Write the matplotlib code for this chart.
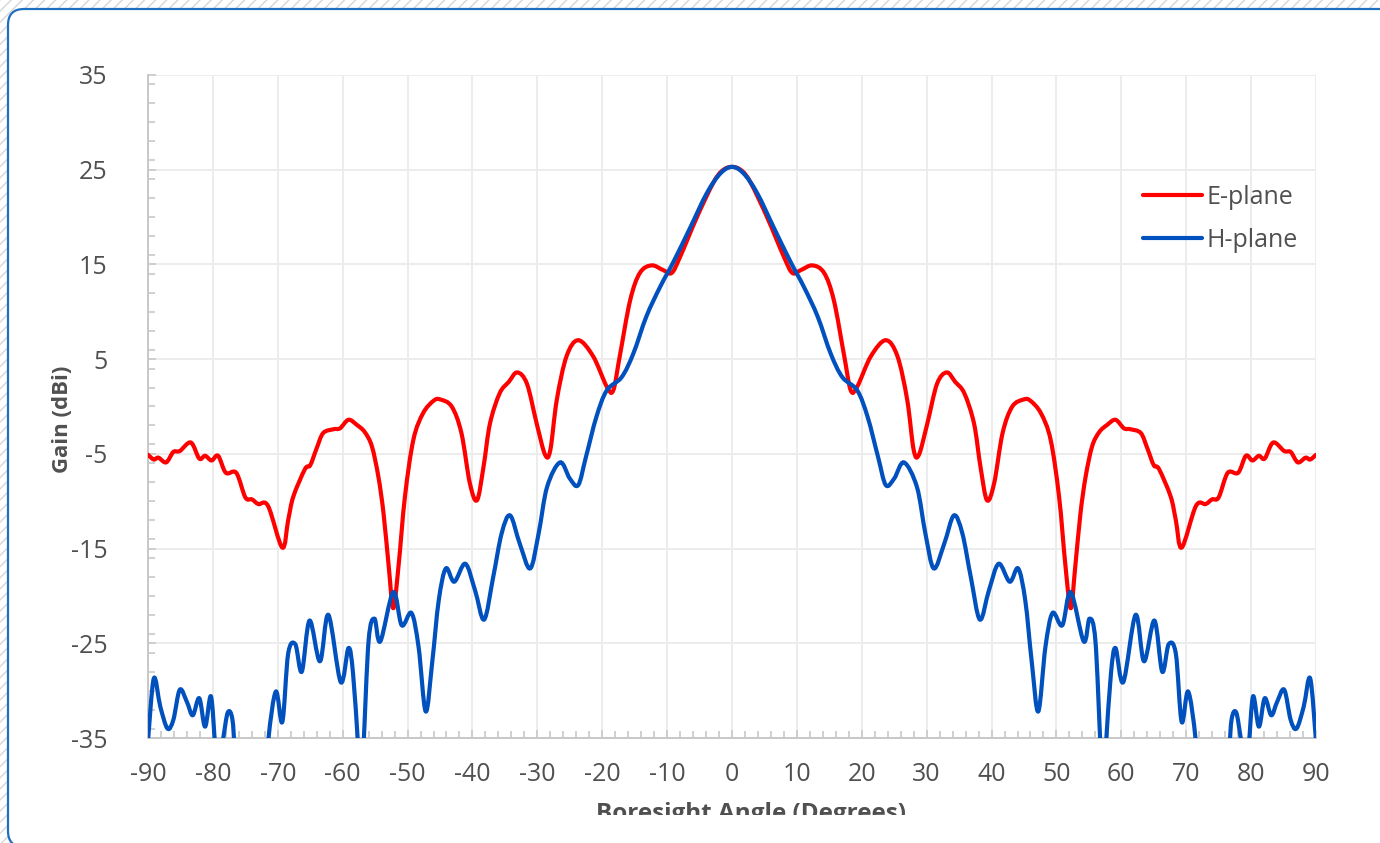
"""Radiation pattern (E-plane / H-plane) of the antenna, gain vs boresight angle."""
import matplotlib
matplotlib.use("Agg")
import matplotlib.pyplot as plt
from matplotlib.patches import Rectangle, FancyBboxPatch, PathPatch
from matplotlib.path import Path
from matplotlib.lines import Line2D
from matplotlib.transforms import IdentityTransform, Bbox, TransformedBbox
from matplotlib.ticker import MultipleLocator

plt.rcParams['font.family'] = ['Open Sans', 'DejaVu Sans']
plt.rcParams['axes.unicode_minus'] = False
plt.rcParams['hatch.color'] = '#d6d6d6'
plt.rcParams['hatch.linewidth'] = 1.0

# E-plane data (degrees, dBi)
e_angle = [-90, -89.1, -88.4, -87.2, -86.1, -85.1, -83.4, -82.1, -81.2, -80.2,
           -79.2, -78.0, -76.4, -75.0, -74.0, -73.0, -71.5, -69.3, -68.4, -67.6,
           -65.8, -65.0, -64.0, -63.0, -61.4, -60.4, -59.1, -57.8, -56.6, -55.5,
           -54.5, -53.7, -52.9, -52.2, -51.4, -50.4, -49.1, -47.6, -46.0, -45.0,
           -43.2, -41.7, -40.4, -39.3, -38.3, -37.3, -35.8, -34.4, -33.1, -31.6,
           -30.1, -28.8, -28.0, -27.0, -25.5, -23.7, -21.4, -19.3, -18.3, -17.3,
           -15.7, -14.2, -12.4, -10.6, -9.3, -8.0, -5.4, -2.9, -1.5, 0,
           1.5, 2.9, 5.4, 8.0, 9.3, 10.6, 12.4, 14.2, 15.7, 17.3,
           18.3, 19.3, 21.4, 23.7, 25.5, 27.0, 28.0, 28.8, 30.1, 31.6,
           33.1, 34.4, 35.8, 37.3, 38.3, 39.3, 40.4, 41.7, 43.2, 45.0,
           46.0, 47.6, 49.1, 50.4, 51.4, 52.2, 52.9, 53.7, 54.5, 55.5,
           56.6, 57.8, 59.1, 60.4, 61.4, 63.0, 64.0, 65.0, 65.8, 67.6,
           68.4, 69.3, 71.5, 73.0, 74.0, 75.0, 76.4, 78.0, 79.2, 80.2,
           81.2, 82.1, 83.4, 85.1, 86.1, 87.2, 88.4, 89.1, 90]
e_gain = [-5.1, -5.6, -5.4, -5.9, -4.8, -4.7, -3.8, -5.5, -5.2, -5.7,
          -5.2, -7.0, -7.0, -9.6, -9.8, -10.3, -10.5, -14.9, -12.0, -9.5,
          -6.6, -6.2, -4.4, -2.8, -2.4, -2.3, -1.4, -1.95, -2.7, -4.2,
          -7.4, -11.3, -16.9, -21.3, -16.9, -9.5, -3.5, -0.7, 0.6, 0.75,
          0.0, -2.8, -8.1, -9.9, -6.4, -1.8, 1.4, 2.6, 3.6, 2.4,
          -1.8, -5.1, -4.6, 0.7, 5.3, 7.0, 5.3, 2.1, 1.7, 5.3,
          11.2, 14.1, 14.9, 14.4, 14.1, 15.8, 20.0, 23.6, 24.9, 25.3,
          24.9, 23.6, 20.0, 15.8, 14.1, 14.4, 14.9, 14.1, 11.2, 5.3,
          1.7, 2.1, 5.3, 7.0, 5.3, 0.7, -4.6, -5.1, -1.8, 2.4,
          3.6, 2.6, 1.4, -1.8, -6.4, -9.9, -8.1, -2.8, 0.0, 0.75,
          0.6, -0.7, -3.5, -9.5, -16.9, -21.3, -16.9, -11.3, -7.4, -4.2,
          -2.7, -1.95, -1.4, -2.3, -2.4, -2.8, -4.4, -6.2, -6.6, -9.5,
          -12.0, -14.9, -10.5, -10.3, -9.8, -9.6, -7.0, -7.0, -5.2, -5.7,
          -5.2, -5.5, -3.8, -4.7, -4.8, -5.9, -5.4, -5.6, -5.1]

# H-plane data (degrees, dBi)
h_angle = [-90, -89.1, -88.1, -87.0, -86.1, -85.1, -84.0, -83.1, -82.1, -81.2,
           -80.3, -79.6, -79.0, -78.4, -77.7, -77.0, -76.5, -75.0, -72.5, -71.5,
           -70.3, -69.3, -68.4, -67.3, -66.3, -65.1, -63.5, -62.2, -60.3, -59.1,
           -58.4, -57.6, -57.2, -56.8, -56.0, -55.1, -54.2, -52.2, -50.9, -49.4,
           -48.3, -47.2, -46.2, -45.2, -44.1, -42.8, -41.1, -39.6, -38.2, -36.8,
           -35.5, -34.2, -32.7, -31.1, -29.8, -28.5, -26.5, -25.0, -23.7, -22.5,
           -20.9, -19.3, -17.0, -15.2, -13.2, -11.1, -9.0, -6.5, -3.9, -1.8, 0,
           1.8, 3.9, 6.5, 9.0, 11.1, 13.2, 15.2, 17.0, 19.3, 20.9,
           22.5, 23.7, 25.0, 26.5, 28.5, 29.8, 31.1, 32.7, 34.2, 35.5,
           36.8, 38.2, 39.6, 41.1, 42.8, 44.1, 45.2, 46.2, 47.2, 48.3,
           49.4, 50.9, 52.2, 54.2, 55.1, 56.0, 56.8, 57.2, 57.6, 58.4,
           59.1, 60.3, 62.2, 63.5, 65.1, 66.3, 67.3, 68.4, 69.3, 70.3,
           71.5, 72.5, 75.0, 76.5, 77.0, 77.7, 78.4, 79.0, 79.6, 80.3,
           81.2, 82.1, 83.1, 84.0, 85.1, 86.1, 87.0, 88.1, 89.1, 90]
h_gain = [-35.3, -28.7, -31.7, -34.0, -33.1, -29.9, -31.2, -32.6, -30.8, -33.8,
          -30.6, -36.0, -37.5, -35.0, -32.3, -33.0, -37.0, -45.0, -45.0, -35.5,
          -30.1, -33.3, -26.1, -25.1, -28.0, -22.6, -26.9, -22.0, -29.1, -25.5,
          -28.2, -36.0, -40.0, -36.0, -24.7, -22.4, -24.8, -19.6, -23.1, -21.8,
          -25.4, -32.2, -27.0, -20.5, -17.1, -18.5, -16.6, -19.4, -22.5, -18.0,
          -13.4, -11.5, -14.5, -17.1, -13.4, -8.5, -5.9, -7.6, -8.3, -5.3,
          -1.1, 1.7, 3.1, 5.6, 9.5, 12.6, 15.3, 18.8, 22.5, 24.6, 25.3,
          24.6, 22.5, 18.8, 15.3, 12.6, 9.5, 5.6, 3.1, 1.7, -1.1,
          -5.3, -8.3, -7.6, -5.9, -8.5, -13.4, -17.1, -14.5, -11.5, -13.4,
          -18.0, -22.5, -19.4, -16.6, -18.5, -17.1, -20.5, -27.0, -32.2, -25.4,
          -21.8, -23.1, -19.6, -24.8, -22.4, -24.7, -36.0, -40.0, -36.0, -28.2,
          -25.5, -29.1, -22.0, -26.9, -22.6, -28.0, -25.1, -26.1, -33.3, -30.1,
          -35.5, -45.0, -45.0, -37.0, -33.0, -32.3, -35.0, -37.5, -36.0, -30.6,
          -33.8, -30.8, -32.6, -31.2, -29.9, -33.1, -34.0, -31.7, -28.7, -35.3]

E_COLOR = '#ff0000'
H_COLOR = '#0050be'
TXT = '#505050'


def smooth_path(xs, ys):
    """Excel style 'smoothed line': cubic Bezier through every data point."""
    verts = [(xs[0], ys[0])]
    codes = [Path.MOVETO]
    n = len(xs)
    for i in range(n - 1):
        x0, y0 = (xs[i - 1], ys[i - 1]) if i > 0 else (xs[i], ys[i])
        x1, y1 = xs[i], ys[i]
        x2, y2 = xs[i + 1], ys[i + 1]
        x3, y3 = (xs[i + 2], ys[i + 2]) if i + 2 < n else (x2, y2)
        verts += [(x1 + (x2 - x0) / 6, y1 + (y2 - y0) / 6),
                  (x2 - (x3 - x1) / 6, y2 - (y3 - y1) / 6),
                  (x2, y2)]
        codes += [Path.CURVE4] * 3
    return Path(verts, codes)


W, H = 1380, 843
fig = plt.figure(figsize=(W / 100, H / 100), dpi=100)

# hatched background + rounded white card with blue border
fig.patches.append(Rectangle((0, 0), W, H, transform=IdentityTransform(),
                             facecolor='white', edgecolor='#d6d6d6',
                             hatch='///', linewidth=0, zorder=-10))
fig.patches.append(FancyBboxPatch((8, -4), W + 20, H - 9 + 4,
                                  boxstyle="round,pad=0,rounding_size=16",
                                  transform=IdentityTransform(),
                                  facecolor='white', edgecolor='#1f6fc0',
                                  linewidth=1.6, zorder=-9))

ax = fig.add_axes([148 / W, 1 - 738 / H, (1316 - 148) / W, (738 - 75) / H])
ax.set_facecolor('none')

for xs, ys, col, z in [(e_angle, e_gain, E_COLOR, 3), (h_angle, h_gain, H_COLOR, 4)]:
    ax.add_patch(PathPatch(smooth_path(xs, ys), facecolor='none', edgecolor=col,
                           lw=3.0, joinstyle='round', capstyle='round', zorder=z))

ax.set_xlim(-90, 90)
ax.set_ylim(-35, 35)
ax.xaxis.set_major_locator(MultipleLocator(10))
ax.xaxis.set_minor_locator(MultipleLocator(2))
ax.yaxis.set_minor_locator(MultipleLocator(2))
ax.set_yticks([-35, -25, -15, -5, 5, 15, 25, 35])

ax.grid(True, which='major', color='#ececec', lw=1.4, zorder=0)
for s in ['top', 'right']:
    ax.spines[s].set_visible(False)
for s in ['left', 'bottom']:
    ax.spines[s].set_color('#c8c8c8')
    ax.spines[s].set_linewidth(1.4)

ax.tick_params(which='both', direction='in', color='#c8c8c8', width=1.2,
               labelcolor=TXT, labelsize=18)
ax.tick_params(which='major', length=6)
ax.tick_params(which='minor', length=5)
ax.tick_params(axis='x', pad=17)
ax.tick_params(axis='y', pad=29)

# y label
fig.text(63 / W, 1 - 419 / H, 'Gain (dBi)', rotation=90, ha='center',
         va='center', fontsize=16, fontweight='bold', color=TXT)

# x label, cut off at the bottom of the chart
xl = fig.text(751 / W, 1 - 802 / H, 'Boresight Angle (Degrees)', ha='center',
              va='top', fontsize=17.5, fontweight='bold', color=TXT)
xl.set_clip_box(TransformedBbox(Bbox([[0, H - 815], [W, H]]), IdentityTransform()))
xl.set_clip_on(True)

handles = [Line2D([], [], color=E_COLOR, lw=3.0, solid_capstyle='round'),
           Line2D([], [], color=H_COLOR, lw=3.0, solid_capstyle='round')]
leg = ax.legend(handles, ['E-plane', 'H-plane'], loc='upper left',
                bbox_to_anchor=(1143 / W, 1 - 185 / H),
                bbox_transform=fig.transFigure, frameon=False, fontsize=18,
                handlelength=2.35, handletextpad=0.2, labelspacing=0.72,
                borderpad=0, borderaxespad=0)
for t in leg.get_texts():
    t.set_color(TXT)

fig.savefig('out.png', dpi=100)
